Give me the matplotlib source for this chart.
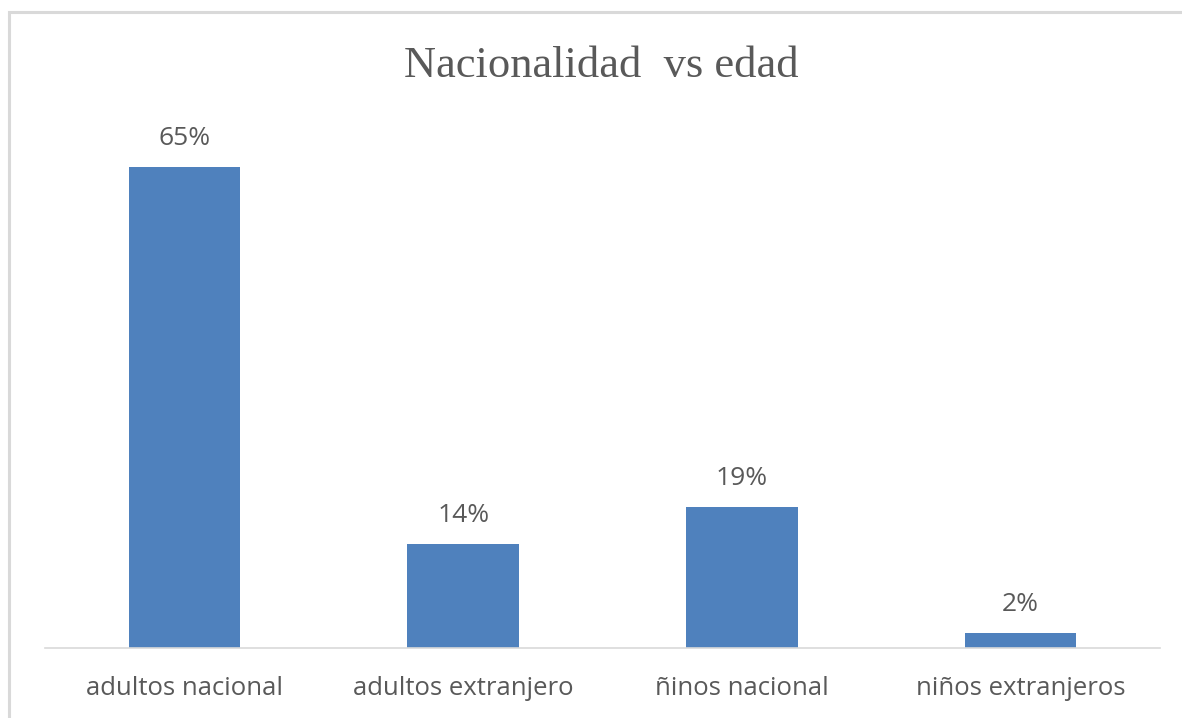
import matplotlib
matplotlib.use("Agg")
import matplotlib.pyplot as plt
from matplotlib.patches import Rectangle

categories = ["adultos nacional", "adultos extranjero", "ñinos nacional", "niños extranjeros"]
values = [0.65, 0.14, 0.19, 0.02]
value_labels = ["65%", "14%", "19%", "2%"]
title = "Nacionalidad  vs edad"

W, H = 1182, 718
fig = plt.figure(figsize=(W / 100, H / 100), dpi=100)
fig.patch.set_facecolor("white")

# chart border (light gray), open on right/bottom as in the crop
fig.add_artist(Rectangle((9 / W, -0.05), 1.2, 1 - 12 / H + 0.05, transform=fig.transFigure,
                         fill=False, edgecolor="#d9d9d9", linewidth=2.2, clip_on=False))

ymax = 0.70
ax_bottom = 648
ax_top = 648 - ymax * (481 / 0.65)
ax = fig.add_axes([45 / W, 1 - ax_bottom / H, (1160 - 45) / W, (ax_bottom - ax_top) / H])

x = list(range(len(categories)))
ax.bar(x, values, width=0.40, color="#4f81bd", zorder=2)
ax.set_xlim(-0.5, len(categories) - 0.5)
ax.set_ylim(0, ymax)

label_font = "Open Sans"
for xi, v, lab in zip(x, values, value_labels):
    ax.annotate(lab, (xi, v), xytext=(0, 16), textcoords="offset points",
                ha="center", va="baseline", fontsize=19, color="#595959", family=label_font)

for s in ["top", "right", "left"]:
    ax.spines[s].set_visible(False)
ax.spines["bottom"].set_color("#d9d9d9")
ax.spines["bottom"].set_linewidth(1.2)
ax.set_yticks([])
ax.set_xticks(x)
ax.set_xticklabels(categories, fontsize=18.5, color="#595959", family=label_font)
ax.tick_params(axis="x", length=0, pad=20.5)

fig.text(601 / W, 1 - 77 / H, title, ha="center", va="baseline",
         fontsize=32, color="#595959", family="Liberation Serif")

fig.savefig("out.png", dpi=100)
